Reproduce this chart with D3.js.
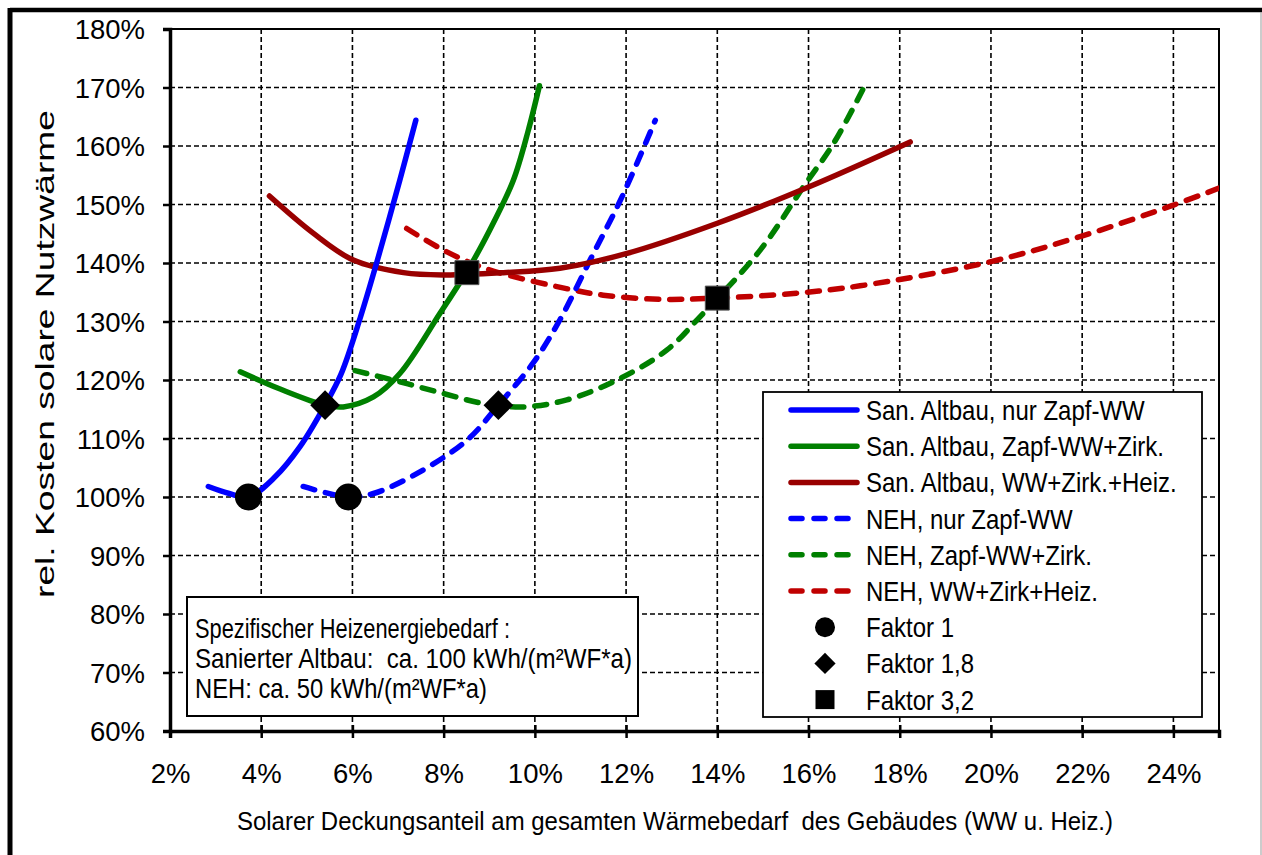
<!DOCTYPE html>
<html><head><meta charset="utf-8">
<script src="https://cdn.jsdelivr.net/npm/d3@7"></script>
<style>html,body{margin:0;padding:0;background:#fff;}svg{display:block;font-family:"Liberation Sans",Arial,sans-serif;}text{white-space:pre;}</style>
</head><body>
<svg id="c" width="1262" height="855"></svg>
<script>
// ---- data ----
const xTicks = [2,4,6,8,10,12,14,16,18,20,22,24];
const yTicks = [60,70,80,90,100,110,120,130,140,150,160,170,180];
const seriesNames = ["San. Altbau, nur Zapf-WW","San. Altbau, Zapf-WW+Zirk.","San. Altbau, WW+Zirk.+Heiz.","NEH, nur Zapf-WW","NEH, Zapf-WW+Zirk.","NEH, WW+Zirk+Heiz."];
const altbauZapfX = [2.84,3.3,3.72,4.3,4.85,5.4,5.75,6.17,6.53,7.04,7.39];
const altbauZapfY = [101.8,100.6,100.0,103.4,108.6,115.7,121.0,130.6,140.0,154.2,164.4];
const altbauZirkX = [3.54,4.4,5.4,5.8,6.46,7.04,7.92,8.62,9.1,9.53,9.85,10.1];
const altbauZirkY = [121.4,118.5,115.7,115.4,117.1,121.1,131.4,140.0,147.0,154.2,162.5,170.3];
const altbauHeizX = [4.18,5.14,6.02,7.12,8.0,9.31,10.55,12.0,14.0,16.0,18.23];
const altbauHeizY = [151.45,145.1,140.5,138.35,137.95,138.35,139.1,141.6,146.8,153.0,160.7];
const nehZapfX = [4.92,5.91,6.46,7.41,8.51,9.2,9.97,10.55,11.21,11.91,12.64];
const nehZapfY = [101.8,100.0,100.6,104.0,109.7,115.7,123.0,130.3,140.5,151.3,164.4];
const nehZirkX = [6.06,7.04,7.99,8.87,9.75,10.7,11.8,12.89,13.62,14.94,15.89,16.55,17.24];
const nehZirkY = [121.6,119.7,117.7,116.0,115.4,116.6,120.0,125.1,130.8,142.2,153.05,160.45,170.4];
const nehHeizX = [7.19,8.07,9.02,10.77,11.5,12.75,13.99,15.67,17.13,19.98,21.99,24.0,25.0];
const nehHeizY = [145.9,141.9,138.8,135.5,134.5,133.8,134.0,134.8,136.1,140.2,144.6,149.9,152.8];
const faktor1X = [3.72,5.91],  faktor1Y = [100,100];
const faktor18X = [5.4,9.2],   faktor18Y = [115.7,115.7];
const faktor32X = [8.51,14.0], faktor32Y = [138.35,134.0];
const markerNames = ["Faktor 1","Faktor 1,8","Faktor 3,2"];
const noteLines = ["Spezifischer Heizenergiebedarf :","Sanierter Altbau:  ca. 100 kWh/(m\u00B2WF*a)","NEH: ca. 50 kWh/(m\u00B2WF*a)"];
const xTitle = "Solarer Deckungsanteil am gesamten W\u00E4rmebedarf  des Geb\u00E4udes (WW u. Heiz.)";
const yTitle = "rel. Kosten solare Nutzw\u00E4rme";

// ---- layout ----
const svg = d3.select("#c");
const L = 170, R = 1219, T = 29, B = 731;
const x = d3.scaleLinear().domain([2,25]).range([L,R]);
const y = d3.scaleLinear().domain([60,180]).range([B,T]);

function stxt(g, str, px, py, fs, k, anchor, len){
  const t = g.append("text").attr("transform",`translate(${px},${py}) scale(1,${k})`)
    .attr("font-size",fs).attr("text-anchor",anchor||"start").attr("fill","#000")
    .attr("xml:space","preserve").text(str);
  if(len){ t.attr("textLength",len).attr("lengthAdjust","spacingAndGlyphs"); }
  return t;
}

// outer frame
svg.append("line").attr("x1",10).attr("x2",1262).attr("y1",10).attr("y2",10).attr("stroke","#000").attr("stroke-width",4.5);
svg.append("line").attr("x1",10).attr("x2",10).attr("y1",8).attr("y2",855).attr("stroke","#000").attr("stroke-width",5);
svg.append("line").attr("x1",1261).attr("x2",1261).attr("y1",12).attr("y2",855).attr("stroke","#999").attr("stroke-width",1);

// gridlines
const grid = svg.append("g").attr("stroke","#000").attr("stroke-width",1.6).attr("stroke-dasharray","5,3");
grid.selectAll(".gx").data(xTicks.filter(v=>v>2)).join("line")
  .attr("x1",d=>x(d)).attr("x2",d=>x(d)).attr("y1",T).attr("y2",B);
grid.selectAll(".gy").data(yTicks.filter(v=>v>60&&v<180)).join("line")
  .attr("x1",L).attr("x2",R).attr("y1",d=>y(d)).attr("y2",d=>y(d));

// plot border
svg.append("rect").attr("x",L).attr("y",T).attr("width",R-L).attr("height",B-T)
  .attr("fill","none").attr("stroke","#000").attr("stroke-width",2);
// axes (d3 axis)
const xAxis = d3.axisBottom(x).tickValues(xTicks).tickSize(7).tickFormat(d=>d+"%");
const gx = svg.append("g").attr("transform",`translate(0,${B})`).call(xAxis);
gx.select(".domain").attr("stroke","#000").attr("stroke-width",3.5);
gx.selectAll(".tick line").attr("stroke","#000").attr("stroke-width",2.5).attr("y1",-6);
gx.selectAll(".tick text").attr("font-size",27.5).attr("fill","#000").attr("font-family","Liberation Sans, Arial").attr("dy",0).attr("y",52);
const yAxis = d3.axisLeft(y).tickValues(yTicks).tickSize(7).tickFormat(d=>d+"%");
const gy = svg.append("g").attr("transform",`translate(${L},0)`).call(yAxis);
gy.select(".domain").attr("stroke","#000").attr("stroke-width",3.5);
gy.selectAll(".tick line").attr("stroke","#000").attr("stroke-width",2.5);
gy.selectAll(".tick text").attr("font-size",27.5).attr("fill","#000").attr("font-family","Liberation Sans, Arial").attr("x",-25).attr("dy","0.36em");

// clip
svg.append("clipPath").attr("id","clip").append("rect").attr("x",L).attr("y",T).attr("width",R-L).attr("height",B-T);

const series = [
  {name:seriesNames[0], xs:altbauZapfX, ys:altbauZapfY, color:"#0000FF", dash:null},
  {name:seriesNames[1], xs:altbauZirkX, ys:altbauZirkY, color:"#008000", dash:null},
  {name:seriesNames[2], xs:altbauHeizX, ys:altbauHeizY, color:"#990000", dash:null},
  {name:seriesNames[3], xs:nehZapfX, ys:nehZapfY, color:"#0000FF", dash:"12,11"},
  {name:seriesNames[4], xs:nehZirkX, ys:nehZirkY, color:"#008000", dash:"12,11"},
  {name:seriesNames[5], xs:nehHeizX, ys:nehHeizY, color:"#C00000", dash:"12,11"}
];
const line = d3.line().x(d=>x(d[0])).y(d=>y(d[1])).curve(d3.curveCatmullRom.alpha(0.5));
const plot = svg.append("g").attr("clip-path","url(#clip)");
const order = [5,4,3,2,1,0];
order.forEach(i=>{
  const s = series[i];
  plot.append("path").datum(s.xs.map((v,j)=>[v,s.ys[j]]))
    .attr("d",line).attr("fill","none").attr("stroke",s.color).attr("stroke-width",5.5)
    .attr("stroke-linecap","round").attr("stroke-linejoin","round")
    .attr("stroke-dasharray",s.dash);
});

// markers
const sym = {
  circle: d3.symbol().type(d3.symbolCircle).size(Math.PI*13.5*13.5),
  diamond: d3.symbol().type(d3.symbolSquare).size(21*21),
  square: d3.symbol().type(d3.symbolSquare).size(24*24)
};
const mk = svg.append("g");
faktor1X.forEach((v,i)=>mk.append("path").attr("d",sym.circle()).attr("transform",`translate(${x(v)},${y(faktor1Y[i])})`).attr("fill","#000"));
faktor18X.forEach((v,i)=>mk.append("path").attr("d",sym.diamond()).attr("transform",`translate(${x(v)},${y(faktor18Y[i])}) rotate(45)`).attr("fill","#000"));
faktor32X.forEach((v,i)=>mk.append("path").attr("d",sym.square()).attr("transform",`translate(${x(v)},${y(faktor32Y[i])})`).attr("fill","#000").attr("stroke","#555").attr("stroke-width",1));

// legend
const lg = svg.append("g");
lg.append("rect").attr("x",763).attr("y",392).attr("width",439).attr("height",325).attr("fill","#fff").attr("stroke","#000").attr("stroke-width",1.8);
const rowY = i => 410 + i*36.2;
series.forEach((s,i)=>{
  const ry = rowY(i);
  if(s.dash){
    lg.append("line").attr("x1",791).attr("x2",851).attr("y1",ry).attr("y2",ry).attr("stroke",s.color)
      .attr("stroke-width",5.5).attr("stroke-linecap","round").attr("stroke-dasharray","11,12");
  } else {
    lg.append("line").attr("x1",791).attr("x2",857).attr("y1",ry).attr("y2",ry).attr("stroke",s.color)
      .attr("stroke-width",5.5).attr("stroke-linecap","round");
  }
  stxt(lg, s.name, 866, ry+10, 24, 1.16);
});
const legSyms = [
  d3.symbol().type(d3.symbolCircle).size(Math.PI*10*10)(),
  d3.symbol().type(d3.symbolSquare).size(15*15)(),
  d3.symbol().type(d3.symbolSquare).size(19*19)()
];
markerNames.forEach((n,i)=>{
  const ry = rowY(6+i);
  lg.append("path").attr("d",legSyms[i]).attr("transform",`translate(825,${ry})${i===1?" rotate(45)":""}`).attr("fill","#000");
  stxt(lg, n, 866, ry+10, 24, 1.16);
});

// note box
const nb = svg.append("g");
nb.append("rect").attr("x",187).attr("y",597).attr("width",451).attr("height",119).attr("fill","#fff").attr("stroke","#000").attr("stroke-width",2);
const noteLens = [315,437,292];
noteLines.forEach((t,i)=>stxt(nb, t, 195, 638+i*30, 23, 1.18, "start", noteLens[i]));

// axis titles
stxt(svg, xTitle, 237, 830, 26, 1.0, "start", 876);
svg.append("text").attr("transform","translate(54,598) rotate(-90)").attr("font-size",25)
  .attr("textLength",488).attr("lengthAdjust","spacingAndGlyphs").attr("fill","#000").text(yTitle);
</script>
</body></html>
